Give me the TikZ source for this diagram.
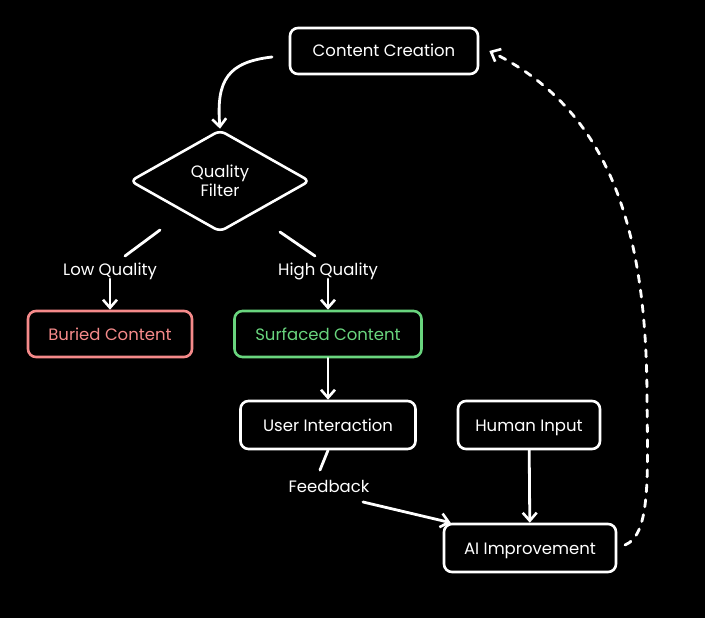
\documentclass[tikz,border=0pt]{standalone}
\usepackage{fontspec}
\setmainfont{Poppins}
\usetikzlibrary{arrows.meta,shapes.geometric}
\definecolor{lowred}{HTML}{F58A8A}
\definecolor{highgreen}{HTML}{69D57E}
\begin{document}
\begin{tikzpicture}[x=1pt,y=-1pt,
  txt/.style={text=white,font=\fontsize{16.5}{19}\selectfont},
  box/.style={txt,draw=white,line width=2.6pt,rounded corners=8pt,minimum height=46pt,inner xsep=0pt,text height=12pt,text depth=0pt},
  conn/.style={draw=white,line width=2.8pt,line cap=round},
  arr/.style={conn,-{Straight Barb[length=8pt,width=14pt,line width=2.6pt]}},
  dashconn/.style={arr,dash pattern=on 7pt off 8pt}]
\fill[black] (0,0) rectangle (705,618);
\useasboundingbox (0,0) rectangle (705,618);

\node[box,minimum width=188pt] (cc) at (384,51) {Content Creation};
\node[txt,diamond,draw=white,line width=2.6pt,rounded corners=6pt,minimum width=180pt,minimum height=102pt,inner sep=0pt,align=center] (qf) at (220,181) {Quality\\Filter};
\node[txt] (low) at (110,271) {Low Quality};
\node[txt] (high) at (328,271) {High Quality};
\node[box,draw=lowred,text=lowred,minimum width=164pt] (bc) at (110,334) {Buried Content};
\node[box,draw=highgreen,text=highgreen,minimum width=187pt] (sc) at (328,334) {Surfaced Content};
\node[box,minimum width=175pt,minimum height=48pt] (ui) at (328,425) {User Interaction};
\node[box,minimum width=142pt,minimum height=48pt] (hi) at (529,425) {Human Input};
\node[txt] (fb) at (329,486) {Feedback};
\node[box,minimum width=172pt,minimum height=48pt] (ai) at (530,548) {AI Improvement};

\coordinate (c1) at (272,57);
\coordinate (l1) at (160,230);
\coordinate (l2) at (125,256);
\coordinate (h1) at (280,232);
\coordinate (h2) at (315,256);
\coordinate (f1) at (320,470);
\coordinate (f2) at (363,502);
\coordinate (d1) at (625,545);

\draw[arr] (c1) .. controls (228,62) and (216,80) .. (qf.north);
\draw[conn] (l1) -- (l2);
\draw[conn] (h1) -- (h2);
\draw[arr] ([yshift=4pt]low.south) -- (bc);
\draw[arr] ([yshift=4pt]high.south) -- (sc);
\draw[arr] (sc) -- (ui);
\draw[conn] (ui.south) -- (f1);
\draw[arr] (f2) -- ([xshift=8pt]ai.north west);
\draw[arr] (hi) -- (ai);
\draw[dashconn] (d1) .. controls (650,535) and (648,480) .. (647,400) .. controls (647,230) and (610,110) .. ([xshift=10pt]cc.east);
\end{tikzpicture}
\end{document}
